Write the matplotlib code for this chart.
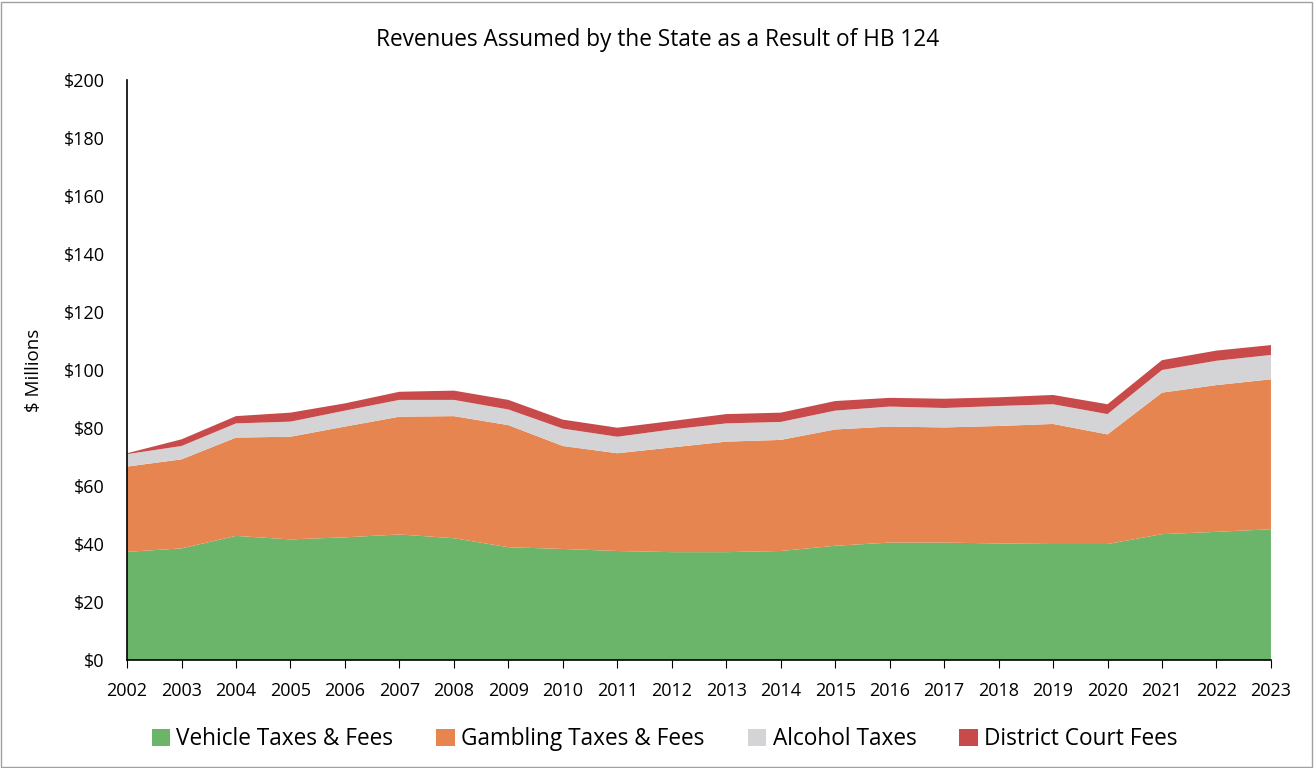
import matplotlib
matplotlib.use('Agg')
import matplotlib.pyplot as plt
from matplotlib.patches import Rectangle
from matplotlib.ticker import FuncFormatter

# Values ($ millions)
years = list(range(2002, 2024))
vehicle = [37.3, 38.5, 42.8, 41.6, 42.3, 43.3, 42.0, 38.9, 38.3, 37.6, 37.2,
           37.2, 37.6, 39.4, 40.5, 40.5, 40.2, 40.0, 40.0, 43.4, 44.2, 45.1]
gambling = [29.4, 30.7, 33.9, 35.4, 38.2, 40.6, 42.1, 42.1, 35.5, 33.7, 36.1,
            38.1, 38.3, 40.1, 40.0, 39.7, 40.5, 41.4, 37.8, 48.8, 50.6, 51.7]
alcohol = [4.3, 4.6, 4.9, 5.2, 5.5, 5.8, 5.6, 5.4, 6.0, 5.7, 6.2,
           6.3, 6.2, 6.5, 6.9, 6.7, 6.9, 6.8, 7.0, 7.8, 8.4, 8.4]
court = [0.3, 2.3, 2.5, 3.1, 2.5, 2.8, 3.2, 3.3, 3.1, 3.1, 2.9,
         3.2, 3.2, 3.3, 3.0, 3.2, 3.0, 3.2, 3.4, 3.4, 3.5, 3.4]

labels = ['Vehicle Taxes & Fees', 'Gambling Taxes & Fees', 'Alcohol Taxes', 'District Court Fees']
colors = ['#6bb56b', '#e6854f', '#d4d4d6', '#c94a4a']

plt.rcParams['font.family'] = ['Open Sans', 'DejaVu Sans']

fig = plt.figure(figsize=(13.15, 7.68), dpi=100)
ax = fig.add_axes([0.0966, 0.1406, 0.8699, 0.7552])

ax.stackplot(years, vehicle, gambling, alcohol, court, colors=colors, labels=labels)

ax.set_xlim(2002, 2023)
ax.set_ylim(0, 200)
ax.set_yticks(range(0, 201, 20))
ax.yaxis.set_major_formatter(FuncFormatter(lambda v, p: f'${v:.0f}'))
ax.set_xticks(years)
ax.set_xticklabels([str(y) for y in years])
ax.tick_params(axis='y', length=0, pad=16, labelsize=13)
ax.tick_params(axis='x', length=6, direction='out', pad=9.5, labelsize=13)
for s in ['top', 'right']:
    ax.spines[s].set_visible(False)
ax.spines['left'].set_linewidth(1.2)
ax.spines['bottom'].set_linewidth(1.2)

ax.set_ylabel('$ Millions', fontsize=13.5)
ax.yaxis.set_label_coords(-0.0734, 0.5)
fig.text(0.5, 0.948, 'Revenues Assumed by the State as a Result of HB 124',
         ha='center', va='center', fontsize=16.3)

leg = ax.legend(loc='center', bbox_to_anchor=(0.47, -0.137), ncol=4, frameon=False,
                fontsize=16.3, handlelength=0.8, handleheight=0.8, handletextpad=0.3,
                columnspacing=1.9)

fig.patches.append(Rectangle((0.001, 0.001), 0.997, 0.997, transform=fig.transFigure,
                             fill=False, edgecolor='#a0a0a0', linewidth=1))

fig.savefig('out.png', dpi=100)
